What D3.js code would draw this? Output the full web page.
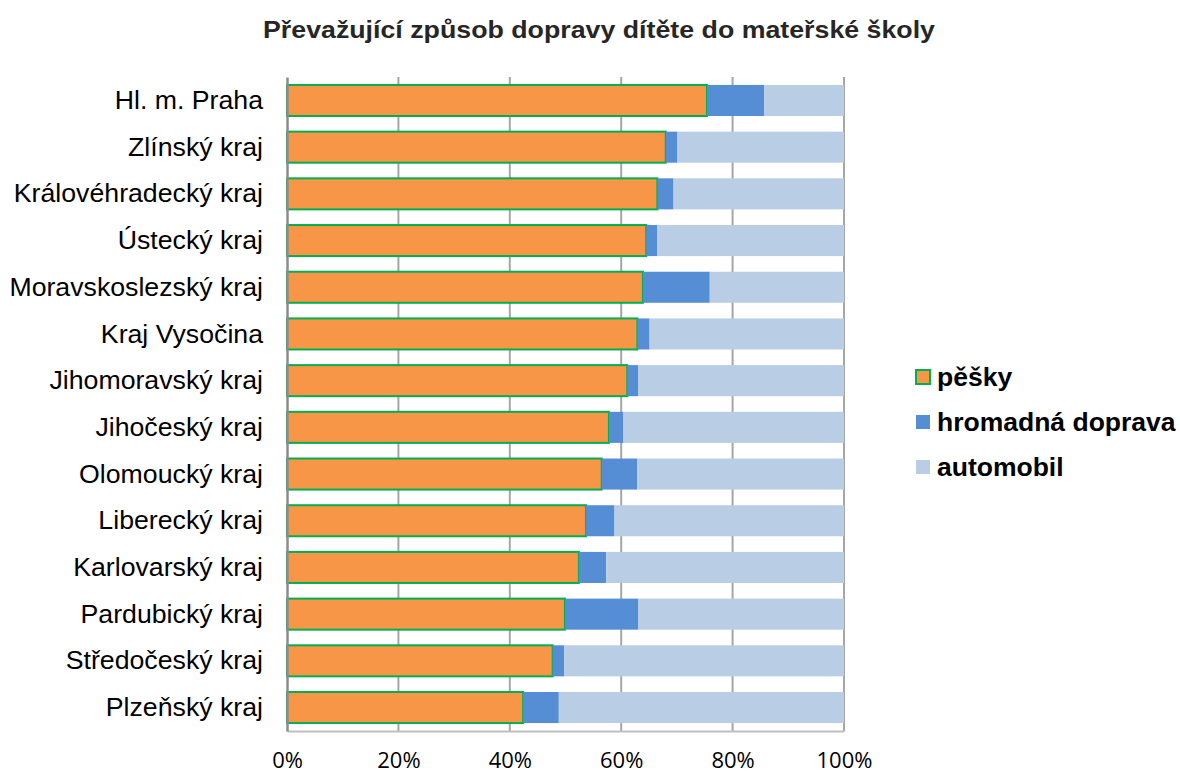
<!DOCTYPE html>
<html>
<head>
<meta charset="utf-8">
<script src="https://cdn.jsdelivr.net/npm/d3@7"></script>
<style>
  body { margin: 0; background: #fff; }
  svg { font-family: "Liberation Sans", Arial, sans-serif; }
</style>
</head>
<body>
<svg width="1180" height="775"></svg>
<script>
// kraje, odshora dolu
var regions = ["Hl. m. Praha", "Zlínský kraj", "Královéhradecký kraj", "Ústecký kraj",
  "Moravskoslezský kraj", "Kraj Vysočina", "Jihomoravský kraj", "Jihočeský kraj",
  "Olomoucký kraj", "Liberecký kraj", "Karlovarský kraj", "Pardubický kraj",
  "Středočeský kraj", "Plzeňský kraj"];
// podíly v procentech
var pesky     = [75.4, 68.0, 66.5, 64.5, 63.9, 62.9, 61.1, 57.8, 56.5, 53.7, 52.4, 49.9, 47.7, 42.4];
var hromadna  = [10.3,  2.1,  2.9,  2.0, 12.0,  2.2,  2.0,  2.6,  6.4,  5.1,  4.9, 13.2,  2.1,  6.4];
var automobil = pesky.map(function(p, i) { return +(100 - p - hromadna[i]).toFixed(1); });
var tickValues = [0, 20, 40, 60, 80, 100];
var seriesNames = ["pěšky", "hromadná doprava", "automobil"];
var colors = ["#f79646", "#558ed5", "#b9cde5"];

var svg = d3.select("svg");
var margin = {left: 287, right: 336, top: 77, bottom: 44};
var width = 1180 - margin.left - margin.right,
    height = 775 - margin.top - margin.bottom;

var rows = regions.map(function(r, i) {
  return {region: r, "pěšky": pesky[i], "hromadná doprava": hromadna[i], "automobil": automobil[i]};
});
var stack = d3.stack().keys(seriesNames)(rows);

var x = d3.scaleLinear().domain([0, 100]).range([0, width]);
var y = d3.scaleBand().domain(regions).range([0, height]).paddingInner(0.335).paddingOuter(0.17);
var color = d3.scaleOrdinal().domain(seriesNames).range(colors);

svg.append("text")
  .attr("x", 599).attr("y", 38)
  .attr("text-anchor", "middle")
  .attr("font-size", 24).attr("font-weight", "bold")
  .attr("fill", "#262626")
  .attr("textLength", 672).attr("lengthAdjust", "spacingAndGlyphs")
  .text("Převažující způsob dopravy dítěte do mateřské školy");

var g = svg.append("g").attr("transform", "translate(" + margin.left + "," + margin.top + ")");

// mrizka
g.append("g")
  .selectAll("line")
  .data(tickValues.slice(1))
  .enter().append("line")
  .attr("x1", function(d) { return x(d); }).attr("x2", function(d) { return x(d); })
  .attr("y1", 0).attr("y2", height)
  .attr("stroke", "#a6a6a6").attr("stroke-width", 2);

// spodni osa
var xAxis = g.append("g")
  .attr("transform", "translate(0," + height + ")")
  .call(d3.axisBottom(x).tickValues(tickValues).tickFormat(function(d) { return d + "%"; }).tickSize(0).tickPadding(21));
xAxis.select(".domain").attr("stroke", "#bfbfbf").attr("stroke-width", 2);
xAxis.selectAll("text").attr("font-size", 22).attr("fill", "#000").attr("font-family", "'Open Sans', sans-serif");

var layer = g.selectAll(".layer")
  .data(stack)
  .enter().append("g")
  .attr("class", "layer")
  .attr("fill", function(d) { return color(d.key); });

layer.selectAll("rect")
  .data(function(d) { return d; })
  .enter().append("rect")
  .attr("x", function(d) { return x(d[0]); })
  .attr("y", function(d) { return y(d.data.region); })
  .attr("width", function(d) { return x(d[1]) - x(d[0]); })
  .attr("height", y.bandwidth());

// zeleny okraj jen u pesky
layer.filter(function(d) { return d.key == "pěšky"; })
  .selectAll("rect")
  .attr("stroke", "#00b050").attr("stroke-width", 2);

// leva osa
var yAxis = g.append("g")
  .call(d3.axisLeft(y).tickSize(0).tickPadding(24));
yAxis.select(".domain").attr("stroke", "#8c8c8c").attr("stroke-width", 2.5);
yAxis.selectAll("text").attr("font-size", 26.7).attr("fill", "#000");

// legenda
var legend = svg.append("g").attr("transform", "translate(916,370)");
var item = legend.selectAll("g")
  .data(seriesNames)
  .enter().append("g")
  .attr("transform", function(d, i) { return "translate(0," + (i * 45) + ")"; });
item.append("rect")
  .attr("width", 14).attr("height", 14)
  .attr("fill", function(d) { return color(d); })
  .attr("stroke", function(d) { return d == "pěšky" ? "#00b050" : "none"; })
  .attr("stroke-width", 2);
item.append("text")
  .attr("x", 21).attr("y", 7).attr("dy", "0.35em")
  .attr("font-size", 26.5).attr("font-weight", "bold").attr("fill", "#000")
  .text(function(d) { return d; });
</script>
</body>
</html>
